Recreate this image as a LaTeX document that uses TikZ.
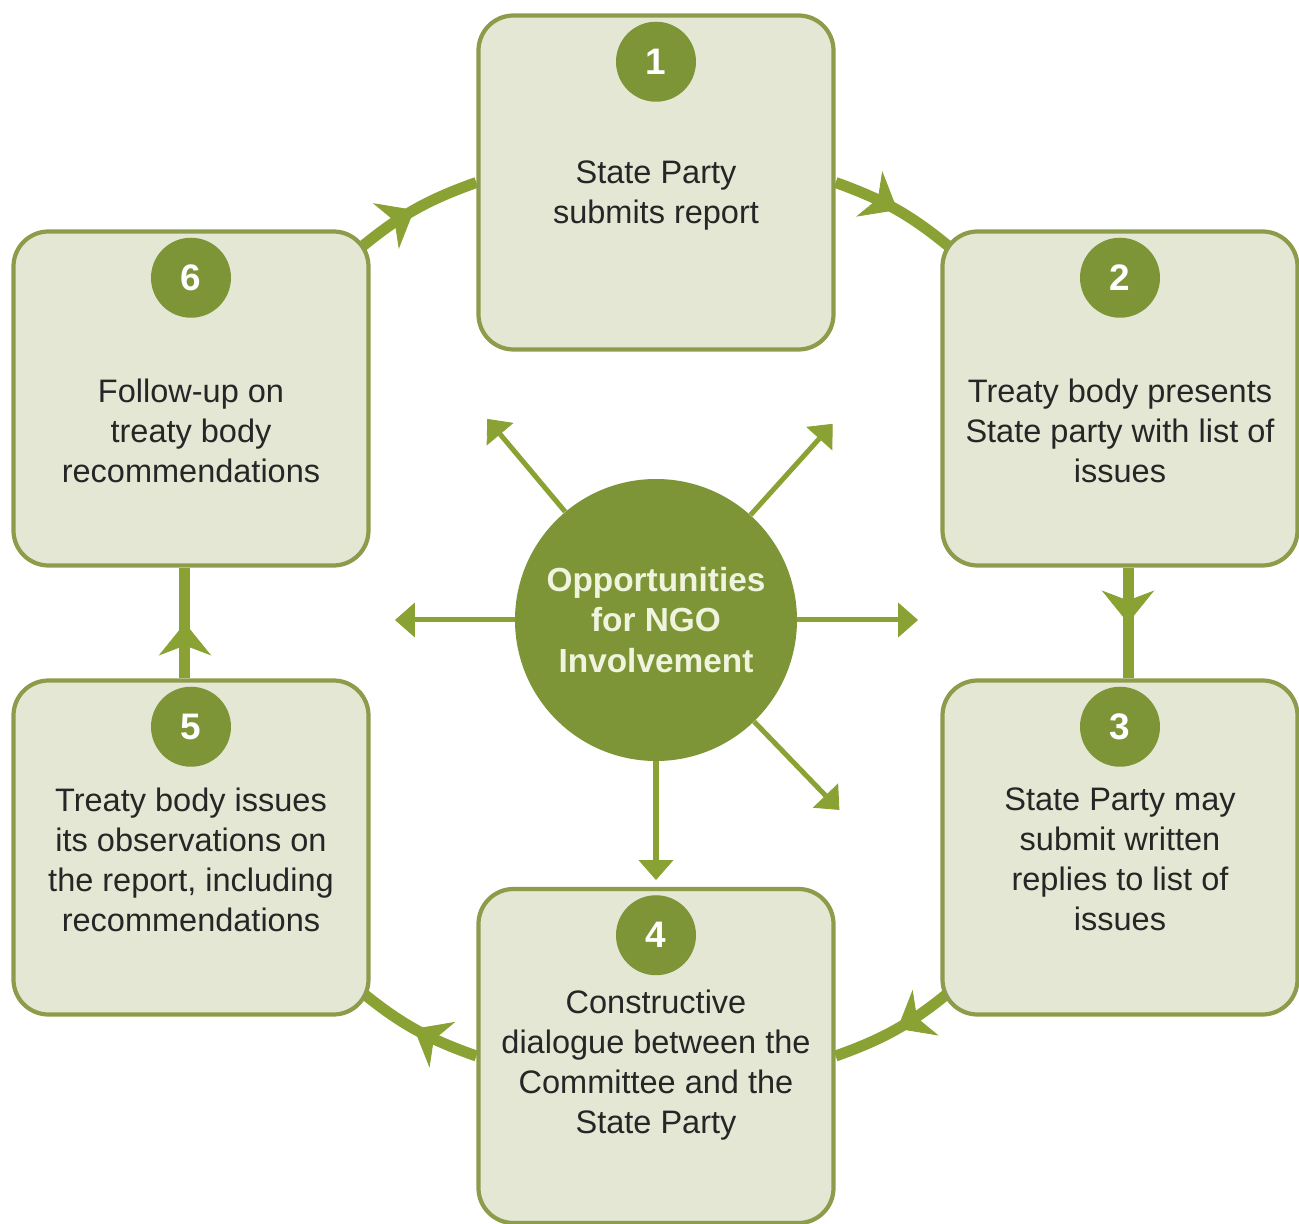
\documentclass[tikz,border=0pt]{standalone}
\usepackage{fontspec}
\setmainfont{Liberation Sans}
\usetikzlibrary{arrows.meta,positioning,decorations.markings}
\definecolor{boxfill}{RGB}{228,231,212}
\definecolor{boxline}{RGB}{140,156,74}
\definecolor{ngogreen}{RGB}{125,149,54}
\definecolor{flowc}{RGB}{138,162,52}
\definecolor{ngotext}{RGB}{240,244,222}
\pgfdeclarelayer{background}
\pgfsetlayers{background,main}

\begin{document}
\begin{tikzpicture}[
    stage/.style={draw=boxline,fill=boxfill,line width=2.4pt,rounded corners=0.7cm,
      minimum width=7.1cm,minimum height=6.68cm},
    stagetext/.style={align=center,text=black!85,font=\fontsize{18.5}{22.8}\selectfont},
    num/.style={circle,fill=ngogreen,text=white,inner sep=0pt,minimum size=1.6cm,
      font=\fontsize{21}{24}\selectfont\bfseries},
    flow/.style={color=flowc,line width=0.22cm,
      decoration={markings,mark=at position 0.5 with
        {\arrow{Stealth[length=0.65cm,width=1.05cm,inset=0.2cm,line width=0.5pt]}}},
      postaction={decorate}},
    spoke/.style={draw=flowc,line width=0.1cm,
      -{Triangle[length=0.4cm,width=0.7cm,line width=0.5pt]}},
  ]

  \useasboundingbox (-13.12,-12.08) rectangle (12.86,12.4);

  \node[circle,fill=ngogreen,minimum size=5.64cm,inner sep=0pt,align=center,
        text=ngotext,font=\fontsize{19}{22.8}\selectfont\bfseries]
        (ngo) at (0,0) {Opportunities\\for NGO\\Involvement};

  \node[stage] (b1) at (0,8.75) {};
  \node[stage] (b2) at (9.28,4.43) {};
  \node[stage] (b3) at (9.28,-4.55) {};
  \node[stage] (b4) at (0,-8.72) {};
  \node[stage] (b5) at (-9.3,-4.55) {};
  \node[stage] (b6) at (-9.3,4.43) {};

  \node[num,below=0.16cm of b1.north] (n1) {1};
  \node[num,below=0.16cm of b2.north] (n2) {2};
  \node[num,below=0.16cm of b3.north] (n3) {3};
  \node[num,below=0.16cm of b4.north] (n4) {4};
  \node[num,below=0.16cm of b5.north] (n5) {5};
  \node[num,below=0.16cm of b6.north] (n6) {6};

  \node[stagetext] (s1) at ([yshift=-0.26cm]b1.center) {State Party\\submits report};
  \node[stagetext] (s2) at ([yshift=-0.64cm]b2.center) {Treaty body presents\\State party with list of\\issues};
  \node[stagetext] (s3) at ([yshift=-0.24cm]b3.center) {State Party may\\submit written\\replies to list of\\issues};
  \node[stagetext] (s4) at ([yshift=-0.18cm]b4.center) {Constructive\\dialogue between the\\Committee and the\\State Party};
  \node[stagetext] (s5) at ([yshift=-0.24cm]b5.center) {Treaty body issues\\its observations on\\the report, including\\recommendations};
  \node[stagetext] (s6) at ([yshift=-0.64cm]b6.center) {Follow-up on\\treaty body\\recommendations};

  \begin{pgfonlayer}{background}
    \draw[flow] (b1.east) to[bend left=10] ([shift={(0.24,-0.4)}]b2.north west);
    \draw[flow] ([xshift=0.16cm]b2.south) -- ([xshift=0.16cm]b3.north);
    \draw[flow] ([shift={(0.24,0.54)}]b3.south west) to[bend left=10] (b4.east);
    \draw[flow] (b4.west) to[bend left=10] ([shift={(-0.24,0.54)}]b5.south east);
    \draw[flow] ([xshift=-0.12cm]b5.north) -- ([xshift=-0.12cm]b6.south);
    \draw[flow] ([shift={(-0.24,-0.4)}]b6.north east) to[bend left=10] (b1.west);
  \end{pgfonlayer}

  \coordinate (ul) at ([shift={(130:5.25)}]ngo.center);
  \coordinate (ur) at ([shift={(48:5.28)}]ngo.center);
  \coordinate (le) at ([shift={(180:5.22)}]ngo.center);
  \coordinate (ri) at ([shift={(0:5.24)}]ngo.center);
  \coordinate (dn) at ([shift={(-90:5.2)}]ngo.center);
  \coordinate (dr) at ([shift={(-46:5.28)}]ngo.center);

  \draw[spoke] (ngo) -- (ul);
  \draw[spoke] (ngo) -- (ur);
  \draw[spoke] (ngo) -- (le);
  \draw[spoke] (ngo) -- (ri);
  \draw[spoke] (ngo) -- (dn);
  \draw[spoke] (ngo) -- (dr);

\end{tikzpicture}
\end{document}
